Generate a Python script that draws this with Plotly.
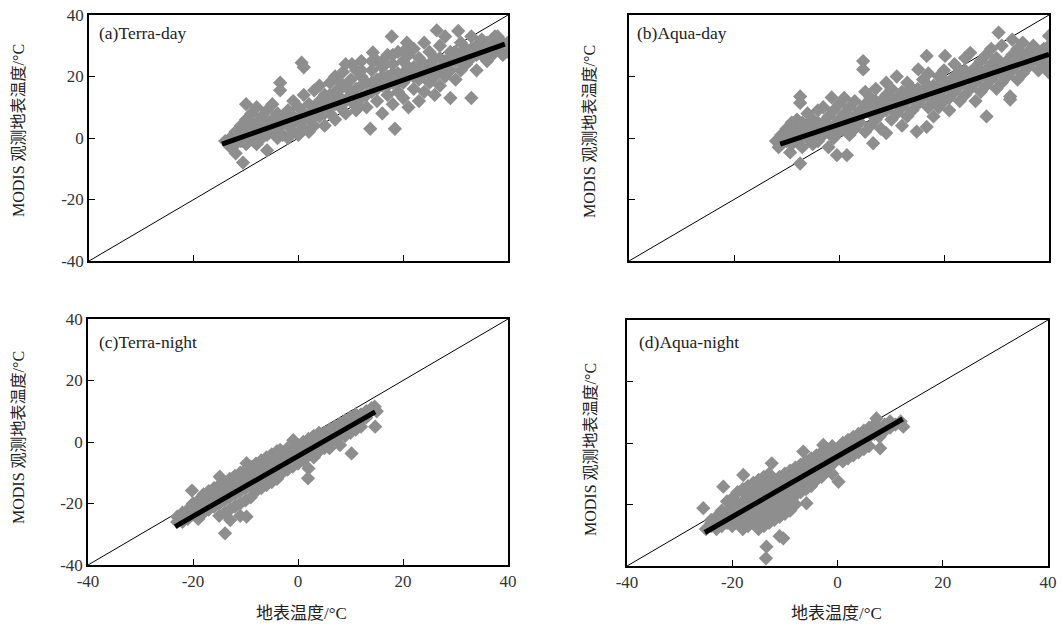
import plotly.graph_objects as go

# ---------------- data ----------------
a_x = [-14,-13,-13,-12,-12,-12,-11,-11,-11,-10.6,-10,-10,-10,-10,-9,-9,-9,-8,-8,-8,-8,-7,-7,-7,-6,-6,-6,-6,-5,-5,-5,-4,-4,-4,-3.5,-3.5,-3,-3,-2,-2,-2,-1,-1,-1,0,0,0,0.6,1,1,1,1,2,2,2,3,3,3,4,4,4,5,5,5,6,6,6,7,7,7,8,8.5,8,9,9,9,10,10,10,10.2,11,11,11,12,12,12,13,13,13.7,14,14,14.2,15,15,15,16,16,16,17,17,17,17.8,18,18,18.4,18,19,19,19,20,20,20,20.7,21,21,21,22,22,22,23,23,23,24,24,24,25,25,25,26,26,26.4,26,27,27,27,28,28,28,29,29,29,30,30,30.5,31,31,31,32,32,33,33,33,34,34,35,35,36,36,37,37.5,37,38,38,39,39,40,40]
a_y = [-1,0,-3,2,-2,-5,4,0,-1,-8,6,2,11,-2,8,3,0,10,5,1,-2,7,3,0,9,4,-4,1,6,2,11,8,3,0,18,15.5,5,1,9,4,0,7,2,12,5,1,10,24.5,23,3,8,14,6,11,2,15.5,9,4,12,7,17,10,4,14,18,8,12,15,6,20,10,21.5,13,17,8,24,12,19,15,24,9,22,16,13,20,25,18,10,3,15,22,27.8,12,19,25,17,8,23,14,20,27,33,18,11,3,24,15,21,28,13,18,25,31,20,10,27,16,23,29,19,12,26,21,15,31,24,18,28,20,14,35,26,22,30,17,25,20,33,22,28,13,25,19,34.8,27,22,31,24,29,13,26,33,22,30,27,32,25,29,31,33,27,29,33,27,31,28,31]
a_core_x = [-9,-7,-5,-3,-1,1,3,4,5,6,6,7,8,8,9,10,11,12,12,13,14,14,15,16,16,17,18,18,19,20,20,21,22,23,24,25,26,27,28,29,30,31,32,33,34,35,36]
a_core_y = [5,5,4,7,5,6,7,10,8,10,14,11,16,18,12,14,11,17,22,14,18,25,16,20,25,17,21,27,18,21,28,23,20,23,24,21,23,26,23,26,28,25,27,29,27,29,31]

b_x = [-12,-11.5,-11,-11,-10,-10,-10,-9.3,-9,-9,-9,-8,-8,-8,-7.4,-7.4,-7.4,-7,-7,-7,-6,-6,-6,-5,-5,-5,-4,-4,-4,-3,-3,-3,-2,-2,-2,-1.4,-1,-1,-1,-0.4,0,0,0,1,1,1.5,1,2,2,2,3,3,3,4,4,4.6,4.6,5,5,5,6,6.5,6,6,7,7,7,8,8,8,9,9,9,9,10,10,10,11,11,11,12,12,12,13,13,13,14,14,14.8,15,15,15.1,16,16,16.7,16.7,17,17,17,18,18,18,19,19,19,20,20.2,20,20,21,21,21,22,22,22,23,23,23,24,24,24,25,25,25,26,26,26,27,27,27,28,28.1,28,28,29,29,29,30,30,30.4,30,31,31,31,32,32,32.6,32.6,33,33,33,34,34,34,35,35,35,36,36,37,37,38,38,39,39,40,40,40,40]
b_y = [-1,-3,1,-2,3,-1,0,-4.7,5,1,-2,3,6,-1,13.5,11.4,-8.3,2,-3,5,4,0,8,1,6,-2,3,9,-1,5,1,10,7,2,-3,13.2,4,9,0,-5.6,6,2,11,8,3,-5.6,13,5,10,1,7,12,3,9,5,25,22.3,11,2,15,8,-1.7,13,4,10,16,6,12,8,3,1.6,14,9,18,11,6,16,13,8,20,10,15,4,12,18,7,14,9,2.1,16,11,22.3,13,19,3.6,26.7,15,10,21,17,12,7,14,20,10,16,26.7,12,22,18,13,9,15,20,24,17,12,22,19,14,26,21,16,27.7,18,23,12,20,25,15,22,7,17,27,19,24,29,21,16,34.3,26,23,18,30,25,20,13.5,12.5,27,22,32,24,19,29,26,21,31,28,23,25,30,27,22,29,24,33.2,21.3,27,30]
b_core_x = [-9,-6,-4,-2,0,2,4,6,7,8,10,12,13,14,15,16,17,18,19,20,21,22,23,24,25,26,27,28,29,30,31,32,33,34,35,36,37,38,39,40]
b_core_y = [3,2,5,4,4,7,7,10,12,10,13,12,15,16,13,15,17,15,17,19,16,18,20,22,19,21,22,20,22,24,21,23,25,27,24,26,28,25,27,25]

c_x = [-23,-23,-22,-22,-21,-21,-20.2,-20,-20,-19,-19,-19,-18,-18,-18,-17,-17,-17,-16,-16,-16,-15,-14.9,-15,-15,-15,-14,-14,-14,-14,-13.9,-13,-13,-13,-12.9,-13,-12,-12,-12,-12,-11,-11,-11,-11,-11,-10,-10,-10,-9.8,-9.8,-10,-9,-9,-9,-9,-8,-8,-8,-8,-7,-7,-7,-7,-6,-6,-6,-6,-5,-5,-5,-5,-4,-4,-4,-4,-3.4,-3,-3,-3,-2,-2,-2,-2,-0.9,-1,-1,-1,0,0,0,0,1,1,1,1,2,1.9,2,2,2,3,3,3,3,4,4,4,4,5,5,5,6,6,6,6,7,7,7,8,8,8,8,9,9,9,10,10,10,10.2,11,11,11,12,12,12,13,13,14,14.7,14.6,15]
c_y = [-24.3,-26,-23,-26,-22,-25,-15.8,-20,-23,-19,-22,-25,-17,-20,-23,-16,-19,-22,-15,-18,-21,-14,-11.3,-17,-20,-24,-13,-16,-19,-23,-29.7,-12,-15,-18,-25.4,-22,-11,-14,-17,-21,-10,-13,-16,-20,-24,-9,-12,-15,-6.9,-24.3,-19,-8,-11,-14,-18,-7,-10,-13,-16,-6,-9,-12,-15,-5,-8,-11,-14,-4,-7,-10,-13,-3,-6,-9,-12,-2.6,-5,-8,-10,-2,-4,-7,-9,0.6,-3,-6,-8,-1,-3,-5,-7,0,-2,-4,-6,-8.6,-11.8,1,-1,-3,2,0,-2,-5,3,1,-1,-3,3,1,-2,4,2,0,-2,5,3,1,6,4,2,-1,7,5,2,8,6,3,-3.7,9,6,4,9,7,5,10,8,11,5,11.5,10]
c_core_x = [-22,-20,-18,-16,-14,-12,-10,-8,-6,-4,-2,0,2,5,7,9,11,13]
c_core_y = [-24,-21.5,-18.5,-17,-14.5,-12.5,-10.5,-8.5,-6.5,-4.5,-3,-2,0,0,2,3.5,7.5,9]

d_x = [-25.5,-25,-24,-24,-23,-23,-23,-22,-22,-22,-21.7,-21,-21,-21,-20,-20,-20,-20,-19,-19,-19,-19,-18,-18,-18,-18,-18,-17.9,-17,-17,-17,-17,-17,-16,-16,-16,-16,-16,-15,-15,-15,-15,-15,-15,-14,-14,-14,-14,-14,-14,-13.5,-13.6,-13,-13,-13,-13,-13,-13,-12.5,-12,-12,-12,-12,-12,-11,-11,-11,-11,-11,-11,-10.3,-10,-10,-10,-10,-10,-9,-9,-9,-9,-9,-8,-8,-8,-8,-8,-7,-7,-7,-7,-6.5,-6,-6,-6,-6,-5.9,-5,-5,-5,-5,-4,-4,-4,-4,-3,-3,-3,-3,-2.7,-2,-2,-2,-1,-1,-1,-1,0,0,0.2,1,1,1,2,2,2,3,3,3,4,4,4,5,5,5,6,6,6,7,7.4,7,8,8.1,8,9,9,10,10,11,12,12.5]
d_y = [-21.2,-28,-27,-25,-26,-28,-24,-22,-25,-27,-14.2,-19,-23,-26,-18,-21,-24,-27,-16,-20,-23,-26,-15,-19,-22,-25,-28,-10.4,-14,-17,-21,-24,-27,-13,-16,-20,-23,-26,-12,-15,-19,-22,-25,-28,-11,-14,-18,-21,-24,-27,-33.7,-37.5,-10,-13,-17,-20,-23,-26,-6.6,-12,-16,-19,-22,-25,-30.3,-11,-15,-18,-21,-24,-31,-10,-14,-17,-20,-23,-9,-12,-16,-19,-22,-8,-11,-14,-17,-20,-7,-10,-13,-16,-2.8,-6,-9,-12,-15,-19.6,-5,-8,-11,-14,-4,-7,-10,-12,-3,-6,-9,-11,-0.65,-2,-5,-8,-1,-4,-7,-10,-2,-5,-12.6,0,-3,-6,1,-2,-5,2,-1,-4,3,0,-3,4,1,-2,5,2,-1,6,8,3,5,-1.7,2,6,4,7,5,6,7,5.3]
d_core_x = [-24,-22,-20,-19,-18,-17,-16,-15,-14,-13,-12,-11,-10,-9,-8,-7,-6,-4,-2,0,2,4,6,8,10]
d_core_y = [-26,-23.5,-22.5,-21.5,-20.5,-19,-18,-17,-16,-15,-14,-13,-12,-14,-12.5,-11.5,-10.5,-8.5,-6.5,-3.5,-0.5,1.5,3.5,3.5,6]

# regression line end points
fit_a_x = [-14.6, 39.4]; fit_a_y = [-2.0, 30.5]
fit_b_x = [-11.2, 40.0]; fit_b_y = [-2.0, 27.2]
fit_c_x = [-23.4, 14.7]; fit_c_y = [-27.5, 9.8]
fit_d_x = [-25.2, 12.4]; fit_d_y = [-29.1, 7.8]

one_to_one = [-40, 40]
tick_vals = [-40, -20, 0, 20, 40]
tick_text = ["-40", "-20", "0", "20", "40"]

panel_labels = ["(a)Terra-day", "(b)Aqua-day", "(c)Terra-night", "(d)Aqua-night"]
y_title = "MODIS 观测地表温度/°C"
x_title = "地表温度/°C"

# ---------------- figure ----------------
W, H = 1061, 633
SERIF = "Liberation Serif, Noto Sans CJK SC, serif"
GRAY = "#8e8e8e"

def px_x(v):
    return v / W

def px_y(v):
    return 1 - v / H

panels = [
    (a_x + a_core_x, a_y + a_core_y, fit_a_x, fit_a_y),
    (b_x + b_core_x, b_y + b_core_y, fit_b_x, fit_b_y),
    (c_x + c_core_x, c_y + c_core_y, fit_c_x, fit_c_y),
    (d_x + d_core_x, d_y + d_core_y, fit_d_x, fit_d_y),
]
# pixel boxes in the screenshot: left, right, top, bottom
boxes = [(89, 508, 15, 261), (629, 1049, 15, 261), (88, 508, 319, 565), (627, 1048, 320, 566)]

fig = go.Figure()
layout = {}
for i, ((px, py, fx, fy), (l, r, t, b)) in enumerate(zip(panels, boxes)):
    n = i + 1
    xa = "x" if n == 1 else f"x{n}"
    ya = "y" if n == 1 else f"y{n}"
    fig.add_trace(go.Scatter(x=one_to_one, y=one_to_one, mode="lines",
                             line=dict(color="black", width=1), xaxis=xa, yaxis=ya,
                             showlegend=False, hoverinfo="skip"))
    fig.add_trace(go.Scatter(x=px, y=py, mode="markers",
                             marker=dict(symbol="diamond", size=11, color=GRAY, line=dict(width=0)),
                             xaxis=xa, yaxis=ya, showlegend=False))
    fig.add_trace(go.Scatter(x=fx, y=fy, mode="lines",
                             line=dict(color="black", width=5), xaxis=xa, yaxis=ya,
                             showlegend=False))
    bottom_row = n >= 3
    left_col = n in (1, 3)
    axis_common = dict(range=[-40, 40], tickvals=tick_vals, ticktext=tick_text,
                       ticks="inside", ticklen=6, tickwidth=1, tickcolor="black",
                       showline=True, linecolor="black", linewidth=1.5, mirror=True,
                       showgrid=False, zeroline=False, automargin=False,
                       ticklabeloverflow="allow",
                       tickfont=dict(family=SERIF, size=17, color="#333333"))
    layout["xaxis" if n == 1 else f"xaxis{n}"] = dict(
        axis_common, domain=[px_x(l), px_x(r)], anchor=ya, showticklabels=bottom_row)
    layout["yaxis" if n == 1 else f"yaxis{n}"] = dict(
        axis_common, domain=[px_y(b), px_y(t)], anchor=xa, showticklabels=left_col)

fig.update_layout(**layout)

ann = []
label_pos = [(97, 33), (635, 33), (97, 342), (637, 342)]
for txt, (x, y) in zip(panel_labels, label_pos):
    ann.append(dict(text=txt, x=px_x(x), y=px_y(y), xref="paper", yref="paper",
                    xanchor="left", yanchor="middle", showarrow=False,
                    font=dict(family=SERIF, size=17.5, color="#222222")))
ytitle_pos = [(18, 131), (590, 132), (18, 438), (590, 450)]
for x, y in ytitle_pos:
    ann.append(dict(text=y_title, x=px_x(x), y=px_y(y), xref="paper", yref="paper",
                    xanchor="center", yanchor="middle", textangle=-90, showarrow=False,
                    font=dict(family=SERIF, size=16, color="#222222")))
for x, y in [(301, 613), (836, 613)]:
    ann.append(dict(text=x_title, x=px_x(x), y=px_y(y), xref="paper", yref="paper",
                    xanchor="center", yanchor="middle", showarrow=False,
                    font=dict(family=SERIF, size=17, color="#222222")))

fig.update_layout(width=W, height=H, margin=dict(l=0, r=0, t=0, b=0),
                  paper_bgcolor="white", plot_bgcolor="white", annotations=ann)

# remove the page's default body margin so the figure fills the window exactly
fig.write_html("out.html", config={"displayModeBar": False},
               post_script="document.body.style.margin='0';document.body.style.overflow='hidden';")
